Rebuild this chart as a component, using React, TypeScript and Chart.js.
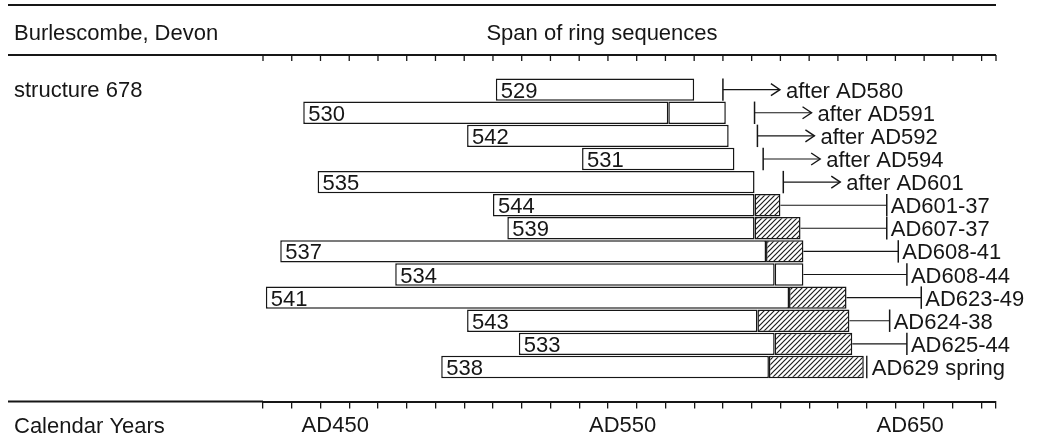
import { useEffect, useRef } from 'react';
import { Chart, registerables } from 'chart.js';

Chart.register(...registerables);

// ---- data (calendar years AD) ----
const headerLeft = 'Burlescombe, Devon';
const headerCentre = 'Span of ring sequences';
const groupLabel = 'structure 678';
const axisTitle = 'Calendar Years';

const samples = ['529', '530', '542', '531', '535', '544', '539', '537', '534', '541', '543', '533', '538'];
const heartStart = [501, 434, 491, 531, 439, 500, 505, 426, 466, 421, 491, 509, 482];
const heartEnd = [570, 561, 582, 584, 591, 591, 591, 595, 598, 603, 592, 598, 596];
const plainSapEnd: (number | null)[] = [null, 581, null, null, null, null, null, null, 608, null, null, null, null];
const hatchSapEnd: (number | null)[] = [null, null, null, null, null, 600, 607, 608, null, 623, 624, 625, 629];
const fellingKind = ['after', 'after', 'after', 'after', 'after', 'range', 'range', 'range', 'range', 'range', 'range', 'range', 'spring'];
const fellingFrom = [580, 591, 592, 594, 601, 601, 607, 608, 608, 623, 624, 625, 629];
const fellingTo: (number | null)[] = [null, null, null, null, null, 637, 637, 641, 644, 649, 638, 644, null];
const fellingLabels = ['after AD580', 'after AD591', 'after AD592', 'after AD594', 'after AD601', 'AD601-37', 'AD607-37', 'AD608-41', 'AD608-44', 'AD623-49', 'AD624-38', 'AD625-44', 'AD629 spring'];

const yearMin = 420;
const yearMax = 675;
const tickStep = 10;
const labelledYears = [450, 550, 650];

const FONT = '"Liberation Sans", Arial, Helvetica, sans-serif';
const INK = '#161616';
const TEXT_SIZE = 22;

function makeHatch(): CanvasPattern | string {
  const s = 5;
  const c = document.createElement('canvas');
  c.width = s;
  c.height = s;
  const g = c.getContext('2d');
  if (!g) return '#999';
  g.fillStyle = '#ffffff';
  g.fillRect(0, 0, s, s);
  g.strokeStyle = '#1e1e1e';
  g.lineWidth = 1.2;
  g.beginPath();
  g.moveTo(0, s);
  g.lineTo(s, 0);
  g.moveTo(-1, 1);
  g.lineTo(1, -1);
  g.moveTo(s - 1, s + 1);
  g.lineTo(s + 1, s - 1);
  g.stroke();
  return g.createPattern(c, 'repeat') ?? '#999';
}

function line(ctx: CanvasRenderingContext2D, x1: number, y1: number, x2: number, y2: number) {
  ctx.beginPath();
  ctx.moveTo(x1, y1);
  ctx.lineTo(x2, y2);
  ctx.stroke();
}

const overlayPlugin = {
  id: 'dendroOverlay',
  beforeDraw(chart: any) {
    const ctx = chart.ctx;
    ctx.save();
    ctx.fillStyle = '#ffffff';
    ctx.fillRect(0, 0, chart.width, chart.height);
    ctx.restore();
  },
  afterDraw(chart: any) {
    const ctx: CanvasRenderingContext2D = chart.ctx;
    const a = chart.chartArea;
    const xs = chart.scales.x;
    const ys = chart.scales.y;
    ctx.save();
    ctx.strokeStyle = INK;
    ctx.fillStyle = INK;

    // rules
    ctx.lineWidth = 2;
    line(ctx, 8, 5, a.right, 5);
    line(ctx, 8, a.top, a.right, a.top);
    line(ctx, 8, a.bottom, a.left, a.bottom);

    // inward ticks on the upper rule
    ctx.lineWidth = 1.3;
    xs.ticks.forEach((t: any) => {
      const px = xs.getPixelForValue(t.value);
      line(ctx, px, a.top, px, a.top + 6);
    });

    // header & side texts
    ctx.font = `${TEXT_SIZE}px ${FONT}`;
    ctx.textBaseline = 'alphabetic';
    ctx.textAlign = 'left';
    ctx.fillText(headerLeft, 14, 40);
    ctx.textAlign = 'center';
    ctx.fillText(headerCentre, 602, 40);
    ctx.textAlign = 'left';
    const row0 = ys.getPixelForValue(1);
    ctx.fillText(groupLabel, 14, row0 + 7);
    ctx.fillText(axisTitle, 14, a.bottom + 31);

    const pitch = ys.getPixelForValue(2) - ys.getPixelForValue(1);
    const half = (pitch * 0.97) / 2;

    samples.forEach((name, i) => {
      const cy = ys.getPixelForValue(i + 1);
      // sample number inside bar
      ctx.fillStyle = INK;
      ctx.textAlign = 'left';
      ctx.fillText(name, xs.getPixelForValue(heartStart[i]) + 5, cy + 8);

      const endYear = Math.max(heartEnd[i], plainSapEnd[i] ?? 0, hatchSapEnd[i] ?? 0);
      const ex = xs.getPixelForValue(endYear);
      ctx.lineWidth = 1.1;
      const kind = fellingKind[i];
      if (kind === 'after') {
        const vx = xs.getPixelForValue(fellingFrom[i]);
        ctx.lineWidth = 1.5;
        line(ctx, vx, cy - half, vx, cy + half);
        ctx.lineWidth = 1.1;
        const tip = vx + 57;
        line(ctx, vx, cy, tip, cy);
        ctx.lineWidth = 1.4;
        ctx.beginPath();
        ctx.moveTo(tip - 9, cy - 6);
        ctx.lineTo(tip, cy);
        ctx.lineTo(tip - 9, cy + 6);
        ctx.stroke();
        ctx.fillText(fellingLabels[i], tip + 6, cy + 8);
      } else if (kind === 'range') {
        const rx = xs.getPixelForValue(fellingTo[i] as number);
        line(ctx, ex, cy, rx, cy);
        ctx.lineWidth = 1.5;
        line(ctx, rx, cy - half, rx, cy + half);
        ctx.fillText(fellingLabels[i], rx + 4, cy + 8);
      } else {
        ctx.lineWidth = 1.4;
        line(ctx, ex + 3, cy - half, ex + 3, cy + half);
        ctx.fillText(fellingLabels[i], ex + 8, cy + 8);
      }
    });
    ctx.restore();
  },
};

export default function App() {
  const ref = useRef<HTMLCanvasElement | null>(null);

  useEffect(() => {
    if (!ref.current) return;
    const hatch = makeHatch();
    const rowLabels = [' ', ...samples, '  '];
    const pad = (arr: any[]) => [null, ...arr, null];
    const heart = pad(samples.map((_, i) => [heartStart[i], heartEnd[i]]));
    const plain = pad(samples.map((_, i) => (plainSapEnd[i] == null ? null : [heartEnd[i], plainSapEnd[i]])));
    const hatched = pad(samples.map((_, i) => (hatchSapEnd[i] == null ? null : [heartEnd[i], hatchSapEnd[i]])));
    const tickYears: number[] = [];
    for (let v = yearMin; v < yearMax; v += tickStep) tickYears.push(v);
    tickYears.push(yearMax);

    const common = {
      borderColor: INK,
      borderWidth: 1.5,
      borderSkipped: false,
      grouped: false,
      barPercentage: 0.97,
      categoryPercentage: 1,
    };

    const chart = new Chart(ref.current, {
      type: 'bar',
      data: {
        labels: rowLabels,
        datasets: [
          { label: 'heartwood', data: heart as any, backgroundColor: '#ffffff', ...common },
          { label: 'sapwood (unhatched)', data: plain as any, backgroundColor: '#ffffff', ...common },
          { label: 'sapwood', data: hatched as any, backgroundColor: hatch as any, ...common },
        ],
      },
      options: {
        indexAxis: 'y',
        animation: false,
        responsive: false,
        devicePixelRatio: 1,
        layout: { padding: { left: 263, right: 41, top: 55, bottom: 5 } },
        plugins: { legend: { display: false }, tooltip: { enabled: false }, title: { display: false } },
        scales: {
          x: {
            type: 'linear',
            min: yearMin,
            max: yearMax,
            afterBuildTicks: (scale: any) => {
              scale.ticks = tickYears.map((v) => ({ value: v }));
            },
            ticks: {
              autoSkip: false,
              maxRotation: 0,
              minRotation: 0,
              padding: 4,
              labelOffset: -14,
              color: INK,
              font: { family: FONT, size: TEXT_SIZE },
              callback: (v: any) => (labelledYears.includes(Number(v)) ? `AD${v}` : ''),
            },
            grid: { drawOnChartArea: false, drawTicks: true, tickLength: 7, color: INK, lineWidth: 1.3 },
            border: { display: true, color: INK, width: 2 },
          },
          y: { type: 'category', display: false, offset: true, grid: { display: false } },
        },
      } as any,
      plugins: [overlayPlugin],
    });
    return () => chart.destroy();
  }, []);

  return (
    <div style={{ position: 'fixed', left: 0, top: 0, width: 1037, height: 448, background: '#fff' }}>
      <canvas ref={ref} width={1037} height={448} style={{ width: 1037, height: 448, display: 'block' }} />
    </div>
  );
}
